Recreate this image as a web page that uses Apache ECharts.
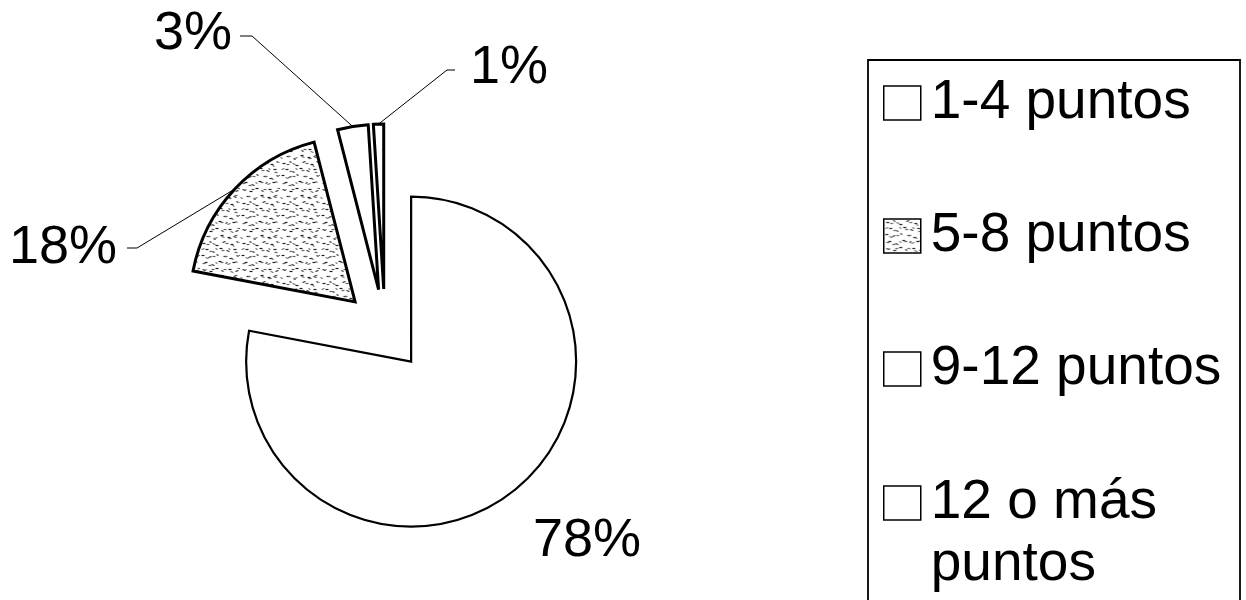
<!DOCTYPE html>
<html><head><meta charset="utf-8">
<script src="https://cdn.jsdelivr.net/npm/echarts@6/dist/echarts.min.js"></script>
<style>html,body{margin:0;padding:0;background:#fff}#c{width:1246px;height:600px}</style>
</head><body><div id="c"></div>
<script>
// ---- data ----
const categories = ['1-4 puntos', '5-8 puntos', '9-12 puntos', '12 o más puntos'];
const percentages = [78, 18, 3, 1];

// ---- layout / style ----
const PIE_CENTER = [385, 330];
const PIE_RADIUS = 165;
const EXPLODE = 41;
const FONT = "'Liberation Sans', Arial, sans-serif";
const borderWidths = [2.2, 3, 3, 3];
const labelSpots = {
  0: {x: 533, y: 541, align: 'left'},
  1: {x: 117, y: 248, align: 'right', kink: [137, 248], end: [127, 248]},
  2: {x: 232, y: 34, align: 'right', kink: [252, 36], end: [240, 36]},
  3: {x: 470, y: 68, align: 'left', kink: [447, 70], end: [455, 70]}
};

function stipple() {
  const c = document.createElement('canvas');
  c.width = 40; c.height = 40;
  const g = c.getContext('2d');
  g.fillStyle = '#fff'; g.fillRect(0, 0, 40, 40);
  const dashes = [[2,3,3,0],[9,1,2,1],[15,5,3,0],[22,2,3,-1],[30,4,3,0],[36,1,2,1],
    [5,9,3,0],[12,11,2,1],[19,8,3,0],[26,10,3,1],[33,9,3,0],
    [1,15,3,0],[8,17,3,-1],[16,14,2,1],[23,16,3,0],[29,18,3,0],[36,15,2,1],
    [4,22,3,0],[11,24,3,1],[18,21,3,0],[25,23,2,-1],[32,22,3,0],
    [2,29,3,1],[9,31,3,0],[15,28,3,0],[21,30,2,1],[28,29,3,0],[35,31,3,-1],
    [6,36,3,0],[13,38,2,1],[20,35,3,0],[27,37,3,0],[33,36,3,1]];
  g.lineWidth = 1.2;
  [['#222', 0, 0], ['#666', 19, 7]].forEach(([col, ox, oy]) => {
    g.strokeStyle = col;
    dashes.forEach(([x, y, dx, dy]) => {
      const X = (x + ox) % 40 + 0.5, Y = (y + oy) % 40 + 0.5;
      g.beginPath(); g.moveTo(X, Y); g.lineTo(X + dx, Y + dy); g.stroke();
    });
  });
  return c;
}
const fills = ['#ffffff', {image: stipple(), repeat: 'repeat'}, '#ffffff', '#ffffff'];

const total = percentages.reduce((a, b) => a + b, 0);
let cum = 0;
const series = percentages.map((v, k) => {
  const mid = (cum + v / 2) / total * 2 * Math.PI;
  cum += v;
  const center = [PIE_CENTER[0] + EXPLODE * Math.sin(mid), PIE_CENTER[1] - EXPLODE * Math.cos(mid)];
  return {
    type: 'pie', center: center, radius: PIE_RADIUS, startAngle: 90, clockwise: true,
    silent: true, animation: false, avoidLabelOverlap: false, percentPrecision: 0,
    emphasis: {disabled: true},
    label: {show: false}, labelLine: {show: false},
    data: percentages.map((val, i) => i === k ? {
      name: categories[i], value: val,
      itemStyle: {color: fills[i], borderColor: '#000', borderWidth: borderWidths[i], borderJoin: 'miter'},
      label: {show: true, position: 'outside', formatter: '{d}%', color: '#000', fontSize: 54, fontFamily: FONT},
      labelLine: {show: i !== 0, lineStyle: {color: '#000', width: 1}}
    } : {
      value: val, itemStyle: {color: 'rgba(0,0,0,0)', borderWidth: 0},
      label: {show: false}, labelLine: {show: false}
    }),
    labelLayout: function (params) {
      if (params.dataIndex !== k) return {};
      const s = labelSpots[k];
      const out = {x: s.x, y: s.y, align: s.align, verticalAlign: 'middle'};
      if (s.kink && params.labelLinePoints) out.labelLinePoints = [params.labelLinePoints[0], s.kink, s.end];
      return out;
    }
  };
});

const legendText = {fontSize: 55, fontFamily: FONT, color: '#000', lineHeight: 62, padding: [0, 0, 0, 5]};
const legendBase = {orient: 'vertical', left: 883, padding: 0, itemWidth: 37, itemHeight: 34,
  selectedMode: false, icon: 'rect', itemStyle: {borderColor: '#000', borderWidth: 1.5}, textStyle: legendText};

const chart = echarts.init(document.getElementById('c'), null, {renderer: 'canvas'});
chart.setOption({
  backgroundColor: '#fff',
  animation: false,
  graphic: [{type: 'rect', silent: true, z: 0,
    shape: {x: 868, y: 60, width: 372, height: 600},
    style: {fill: 'none', stroke: '#000', lineWidth: 1.8}}],
  legend: [
    Object.assign({}, legendBase, {top: 72, itemGap: 71, data: categories.slice(0, 3)}),
    Object.assign({}, legendBase, {top: 410, data: categories.slice(3),
      formatter: name => '\n' + name.replace(/ (puntos)$/, '\n$1')})
  ],
  series: series
});
</script></body></html>
